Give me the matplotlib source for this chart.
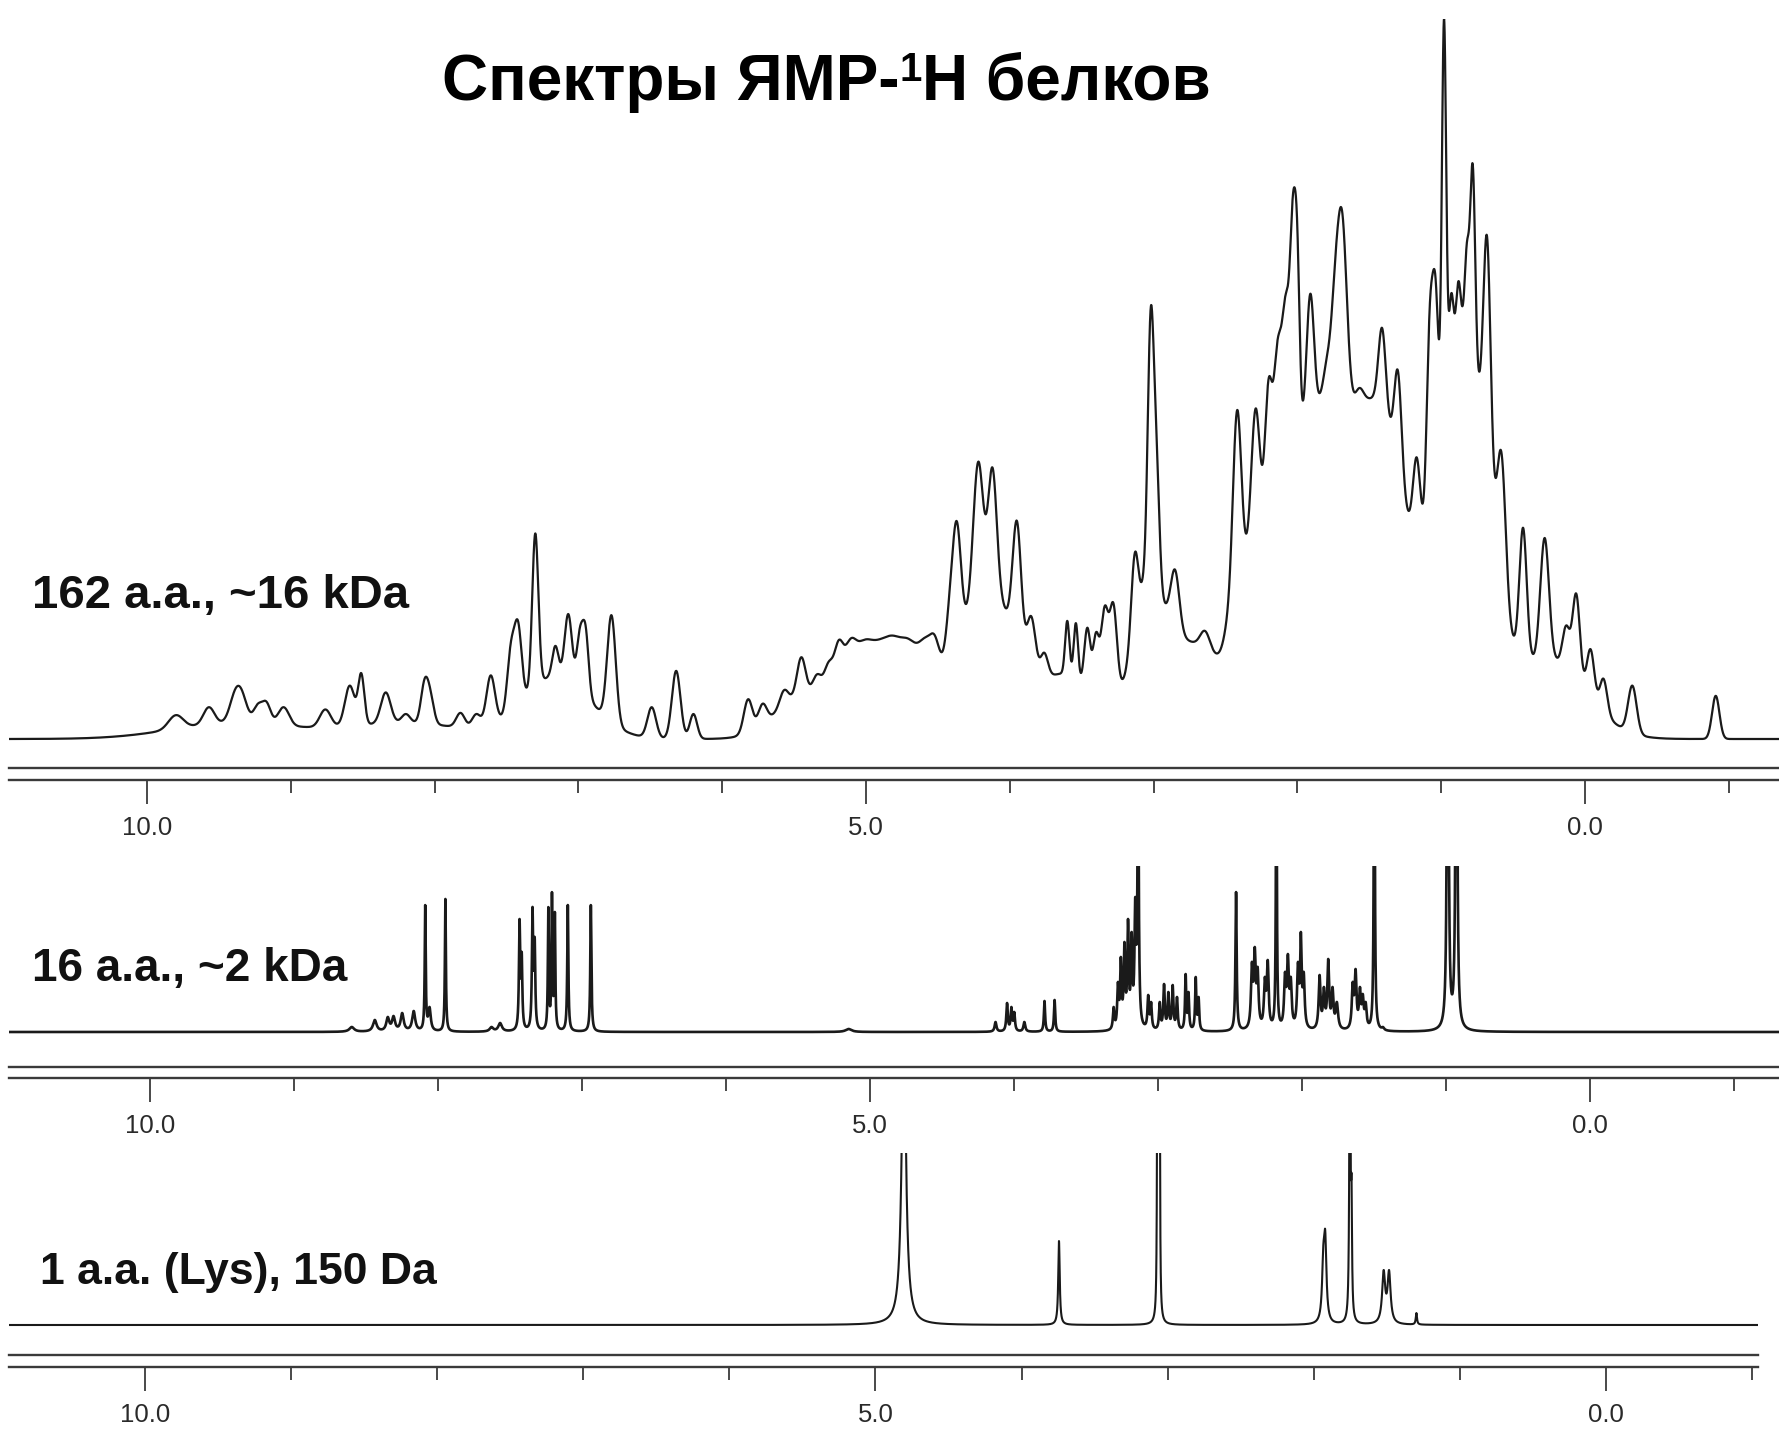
import numpy as np
import matplotlib
matplotlib.use('Agg')
import matplotlib.pyplot as plt
from matplotlib.ticker import MultipleLocator

W, H = 1779, 1440
FONT = ['Liberation Sans', 'DejaVu Sans']
plt.rcParams['font.family'] = FONT

TITLE_PARTS = ['Спектры ЯМР-', '1', 'H белков']
LABELS = ['162 a.a., ~16 kDa', '16 a.a., ~2 kDa', '1 a.a. (Lys), 150 Da']
TICK_POS = [10, 5, 0]
TICK_TEXT = ['10.0', '5.0', '0.0']

# --- panel 1: 162 a.a. protein (peak ppm, apex height, width) ---
p1_ppm = [9.80, 9.57, 9.39, 9.34, 9.23, 9.17, 9.05, 8.76, 8.59, 8.51,
          8.34, 8.20, 8.07, 8.03, 7.82, 7.71, 7.61, 7.47, 7.42, 7.30,
          7.16, 7.07, 6.99, 6.95, 6.77, 6.63, 6.49, 6.32, 6.20, 5.82,
          5.72, 5.57, 5.45, 5.34, 5.26, 5.19, 5.11, 5.02, 4.92, 4.81,
          4.70, 4.58, 4.52, 4.42, 4.37, 4.22, 4.12, 3.95, 3.85, 3.76,
          3.60, 3.54, 3.46, 3.40, 3.34, 3.28, 3.13, 3.07, 3.02, 2.98,
          2.85, 2.64, 2.49, 2.42, 2.29, 2.20, 2.14, 2.08, 2.03, 2.00,
          1.91, 1.79, 1.74, 1.69, 1.57, 1.45, 1.41, 1.30, 1.17, 1.08,
          1.04, 0.98, 0.93, 0.88, 0.82, 0.78, 0.68, 0.58, 0.43, 0.28,
          0.13, 0.06, -0.04, -0.13, -0.33, -0.91]
p1_height = [21, 28, 43, 43, 31, 33, 28, 26, 47, 58,
             41, 22, 53, 44, 23, 22, 56, 85, 104, 181,
             82, 110, 98, 100, 109, 4, 28, 60, 22, 35,
             31, 43, 72, 57, 68, 87, 88, 87, 87, 91,
             88, 90, 91, 128, 192, 244, 239, 192, 108, 76,
             104, 102, 98, 94, 117, 120, 164, 149, 379, 271,
             149, 95, 108, 289, 291, 317, 349, 392, 480, 451,
             392, 340, 416, 466, 309, 309, 359, 324, 248, 378,
             408, 634, 392, 403, 438, 506, 442, 252, 186, 177,
             100, 128, 79, 53, 47, 38]
p1_width = [0.12, 0.09, 0.09, 0.09, 0.07, 0.07, 0.09, 0.09, 0.08, 0.05,
            0.08, 0.07, 0.06, 0.06, 0.07, 0.07, 0.07, 0.06, 0.06, 0.05,
            0.05, 0.06, 0.05, 0.05, 0.07, 0.06, 0.07, 0.07, 0.06, 0.07,
            0.07, 0.07, 0.07, 0.07, 0.07, 0.07, 0.09, 0.11, 0.11, 0.11,
            0.11, 0.11, 0.07, 0.06, 0.07, 0.08, 0.07, 0.07, 0.07, 0.06,
            0.035, 0.035, 0.05, 0.05, 0.06, 0.06, 0.06, 0.05, 0.05, 0.05,
            0.07, 0.08, 0.06, 0.07, 0.07, 0.06, 0.06, 0.07, 0.045, 0.04,
            0.06, 0.07, 0.06, 0.08, 0.07, 0.06, 0.06, 0.06, 0.06, 0.05,
            0.05, 0.035, 0.035, 0.035, 0.035, 0.04, 0.06, 0.07, 0.06, 0.07,
            0.06, 0.06, 0.06, 0.06, 0.07, 0.06]
# broad envelope under panel 1
p1_bg_ppm = [9.4, 8.2, 7.15, 5.45, 5.0, 4.7, 4.15, 3.6, 3.0, 2.68, 2.35, 1.85, 1.38, 0.85, 0.25]
p1_bg_height = [14, 14, 55, 35, 55, 60, 130, 55, 120, 60, 70, 290, 180, 360, 70]
p1_bg_width = [1.0, 1.0, 0.55, 0.45, 0.45, 0.5, 0.45, 0.45, 0.35, 0.3, 0.25, 0.75, 0.4, 0.4, 0.6]

# --- panel 2: 16 a.a. peptide ---
p2_ppm = [8.60, 8.44, 8.35, 8.31, 8.25, 8.17, 8.09, 8.06, 7.95, 7.63,
          7.57, 7.435, 7.42, 7.345, 7.33, 7.235, 7.21, 7.19, 7.10, 6.94,
          5.15, 4.13, 4.05, 4.02, 4.00, 3.93, 3.79, 3.72, 3.31, 3.28,
          3.26, 3.235, 3.21, 3.185, 3.16, 3.14, 3.07, 3.05, 2.99, 2.96,
          2.93, 2.90, 2.87, 2.81, 2.79, 2.74, 2.72, 2.46, 2.35, 2.33,
          2.31, 2.26, 2.24, 2.18, 2.12, 2.10, 2.08, 2.03, 2.01, 1.99,
          1.88, 1.85, 1.82, 1.79, 1.76, 1.65, 1.63, 1.60, 1.58, 1.56,
          1.50, 1.44, 0.99, 0.93]
p2_height = [5, 12, 15, 16, 19, 21, 127, 25, 133, 5,
             9, 113, 80, 125, 95, 125, 140, 120, 127, 127,
             3, 10, 29, 25, 20, 10, 31, 32, 25, 50,
             75, 90, 113, 100, 135, 300, 37, 30, 30, 48,
             40, 47, 35, 58, 40, 55, 35, 140, 70, 85,
             65, 55, 72, 300, 60, 78, 55, 70, 100, 60,
             57, 45, 73, 45, 30, 50, 63, 45, 38, 30,
             400, 5, 700, 700]
p2_width = [0.04, 0.03, 0.025, 0.025, 0.025, 0.025, 0.008, 0.02, 0.008, 0.03,
            0.03, 0.01, 0.01, 0.01, 0.01, 0.008, 0.008, 0.008, 0.009, 0.009,
            0.05, 0.015, 0.012, 0.012, 0.012, 0.015, 0.01, 0.01, 0.012, 0.012,
            0.012, 0.012, 0.012, 0.012, 0.012, 0.01, 0.012, 0.012, 0.012, 0.012,
            0.012, 0.012, 0.012, 0.01, 0.01, 0.01, 0.01, 0.01, 0.015, 0.015,
            0.015, 0.015, 0.015, 0.008, 0.015, 0.015, 0.015, 0.015, 0.012, 0.015,
            0.015, 0.015, 0.015, 0.015, 0.02, 0.015, 0.015, 0.015, 0.015, 0.015,
            0.008, 0.02, 0.01, 0.01]

# --- panel 3: lysine ---
p3_ppm = [4.806, 4.70, 3.744, 3.071, 3.063, 3.055, 1.935, 1.922, 1.753, 1.742,
          1.522, 1.485, 1.298]
p3_height = [300, 4, 84, 300, 500, 300, 80, 95, 400, 150,
             55, 55, 12]
p3_width = [0.035, 0.06, 0.012, 0.006, 0.006, 0.006, 0.02, 0.02, 0.008, 0.008,
            0.025, 0.025, 0.01]


def lorentz(x, c, w):
    return 1.0 / (1.0 + ((x - c) / (w / 2.0)) ** 2)


def gauss(x, c, w):
    return np.exp(-4.0 * np.log(2.0) * ((x - c) / w) ** 2)


def spectrum(x, ppm, height, width, shape, bg=None):
    ppm = np.asarray(ppm, float)
    height = np.asarray(height, float)
    width = np.asarray(width, float)
    base = np.zeros_like(x)
    base_at = np.zeros_like(ppm)
    if bg is not None:
        for c, h, w in zip(*bg):
            base += h * gauss(x, c, w)
            base_at += h * gauss(ppm, c, w)
    # amplitudes so that the apex of each peak lands on the read height
    A = shape(ppm[:, None], ppm[None, :], width[None, :])
    amp = np.clip(np.linalg.solve(A, height - base_at), 0, None)
    y = base.copy()
    for c, a, w in zip(ppm, amp, width):
        y += a * shape(x, c, w)
    return y


fig = plt.figure(figsize=(W / 100, H / 100), dpi=100)


def add_spectrum(x0, x1, y_top, y_base, ymax, lim, y, xs, lw):
    pad = 12
    per_px = ymax / (y_base - y_top)
    ax = fig.add_axes([x0 / W, 1 - (y_base + pad) / H, (x1 - x0) / W,
                       (y_base - y_top + pad) / H])
    ax.plot(xs, y, color='#1a1a1a', lw=lw, solid_joinstyle='round')
    ax.set_xlim(lim)
    ax.set_ylim(-pad * per_px, ymax)
    ax.axis('off')
    return ax


def add_scale(x0, x1, y_up, y_low, lim):
    ax = fig.add_axes([x0 / W, 1 - y_low / H, (x1 - x0) / W, (y_low - y_up) / H])
    ax.patch.set_alpha(0)
    ax.set_xlim(lim)
    ax.set_ylim(0, 1)
    ax.set_yticks([])
    for s in ['left', 'right']:
        ax.spines[s].set_visible(False)
    for s in ['top', 'bottom']:
        ax.spines[s].set_linewidth(1.7)
        ax.spines[s].set_color('#3a3a3a')
    ax.set_xticks(TICK_POS)
    ax.set_xticklabels(TICK_TEXT)
    ax.xaxis.set_minor_locator(MultipleLocator(1))
    ax.tick_params(axis='x', which='major', direction='out', length=17, width=1.3,
                   color='#3a3a3a', pad=9, labelsize=18.5, labelcolor='#2a2a2a')
    ax.tick_params(axis='x', which='minor', direction='out', length=9.5, width=1.3,
                   color='#3a3a3a')
    return ax


panels = [
    # x0, x1, y_top, y_base, ymax, lim, line up, line low, label baseline
    (9, 1779, 19, 739, 634, (10.96, -1.35), 768, 780, 608),
    (9, 1779, 866, 1032, 166, (10.98, -1.31), 1067, 1078, 981),
    (9, 1758, 1153, 1325, 172, (10.93, -1.04), 1355, 1367, 1284),
]

data = [
    (p1_ppm, p1_height, p1_width, gauss, (p1_bg_ppm, p1_bg_height, p1_bg_width), 1.6),
    (p2_ppm, p2_height, p2_width, lorentz, None, 1.9),
    (p3_ppm, p3_height, p3_width, lorentz, None, 1.5),
]

label_x = [32, 32, 40]
label_size = [34, 33, 32]

for i, (pan, d) in enumerate(zip(panels, data)):
    x0, x1, y_top, y_base, ymax, lim, l_up, l_low, lab_y = pan
    ppm, hgt, wid, shape, bg, lw = d
    xs = np.linspace(lim[0], lim[1], 30000)
    y = spectrum(xs, ppm, hgt, wid, shape, bg)
    add_spectrum(x0, x1, y_top, y_base, ymax, lim, y, xs, lw)
    add_scale(x0, x1, l_up, l_low, lim)
    fig.text(label_x[i] / W, 1 - lab_y / H, LABELS[i], ha='left', va='baseline',
             fontsize=label_size[i], fontweight='bold', color='#111111')

# title built from pieces so the superscript 1 can be sized like the original
renderer = fig.canvas.get_renderer()
title_sizes = [46, 29, 46]
title_raise = [0, 19, 0]
pieces = []
for txt, fs in zip(TITLE_PARTS, title_sizes):
    t = fig.text(0, 0, txt, ha='left', va='baseline', fontsize=fs,
                 fontweight='bold', color='#000000')
    pieces.append(t)
widths = [t.get_window_extent(renderer).width for t in pieces]
x_left = 826 - sum(widths) / 2
base_y = 100
for t, w, r in zip(pieces, widths, title_raise):
    t.set_position((x_left / W, 1 - (base_y - r) / H))
    x_left += w

fig.savefig('out.png', dpi=100, facecolor='white')
